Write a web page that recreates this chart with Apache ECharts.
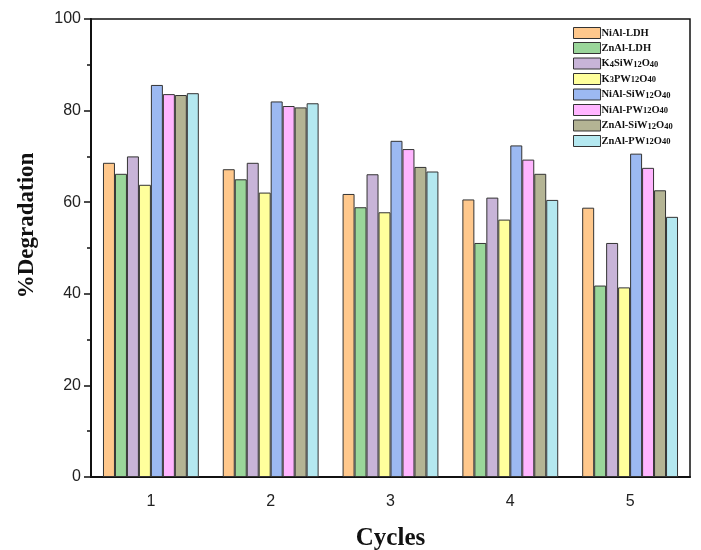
<!DOCTYPE html>
<html>
<head>
<meta charset="utf-8">
<script src="https://cdn.jsdelivr.net/npm/echarts@6/dist/echarts.min.js"></script>
<style>html,body{margin:0;padding:0;background:#fff}#c{width:701px;height:550px}</style>
</head>
<body>
<div id="c"></div>
<script>
const categories = ['1', '2', '3', '4', '5'];
const seriesNames = ['NiAl-LDH', 'ZnAl-LDH', 'K4SiW12O40', 'K3PW12O40', 'NiAl-SiW12O40', 'NiAl-PW12O40', 'ZnAl-SiW12O40', 'ZnAl-PW12O40'];
const niAlLDH = [68.6, 67.2, 61.8, 60.6, 58.8];
const znAlLDH = [66.2, 65.0, 58.9, 51.1, 41.8];
const k4SiW = [70.0, 68.6, 66.1, 61.0, 51.1];
const k3PW = [63.8, 62.1, 57.8, 56.2, 41.4];
const niAlSiW = [85.6, 82.0, 73.4, 72.4, 70.6];
const niAlPW = [83.6, 81.0, 71.6, 69.3, 67.5];
const znAlSiW = [83.4, 80.7, 67.7, 66.2, 62.6];
const znAlPW = [83.8, 81.6, 66.7, 60.5, 56.8];
const yTicks = [0, 20, 40, 60, 80, 100];

const allValues = [niAlLDH, znAlLDH, k4SiW, k3PW, niAlSiW, niAlPW, znAlSiW, znAlPW];
const colors = ['#FFC88C', '#9AD69A', '#C8B4D8', '#FFFF9C', '#9CB9F2', '#FFB5FF', '#B4B494', '#B4E8F0'];

const chart = echarts.init(document.getElementById('c'));
const series = seriesNames.map((n, i) => ({
  name: n,
  type: 'bar',
  xAxisIndex: 0,
  data: allValues[i],
  barGap: '0%',
  barCategoryGap: '20%',
  itemStyle: { color: colors[i], borderColor: '#333', borderWidth: 1 }
}));

chart.setOption({
  animation: false,
  backgroundColor: '#fff',
  grid: { left: 91, right: 11, top: 19, bottom: 73, containLabel: false, outerBoundsMode: 'none', show: true, borderColor: '#111', borderWidth: 1.5, backgroundColor: 'transparent' },
  legend: {
    orient: 'vertical',
    left: 568,
    top: 22,
    icon: 'rect',
    itemWidth: 27,
    itemHeight: 11,
    itemGap: 3,
    data: seriesNames,
    itemStyle: { borderColor: '#333', borderWidth: 1 },
    formatter: function (name) {
      return '{b|' + name.replace(/(\d+)/g, '}{s|$1}{b|') + '}';
    },
    textStyle: {
      padding: [0, 0, 0, -4],
      lineHeight: 11,
      rich: {
        b: { fontFamily: 'Liberation Serif', fontWeight: 'bold', fontSize: 10.5, lineHeight: 11, color: '#111' },
        s: { fontFamily: 'Liberation Serif', fontWeight: 'bold', fontSize: 8.5, lineHeight: 8, color: '#111', verticalAlign: 'bottom', padding: [3, 0, 0, 0] }
      }
    }
  },
  xAxis: [{
    type: 'category',
    data: categories,
    name: 'Cycles',
    nameLocation: 'middle',
    nameGap: 49,
    nameTextStyle: { fontFamily: 'Liberation Serif', fontWeight: 'bold', fontSize: 25, color: '#111' },
    axisLine: { lineStyle: { color: '#111', width: 2 } },
    axisTick: { alignWithLabel: true, length: 7, lineStyle: { color: '#111', width: 1.5 } },
    axisLabel: { fontFamily: 'Liberation Sans', fontSize: 16, color: '#222', margin: 17 }
  }, {
    type: 'category',
    data: categories,
    position: 'bottom',
    axisLine: { show: false },
    axisTick: { alignWithLabel: false, length: 4, lineStyle: { color: '#111', width: 1.5 } },
    axisLabel: { show: false }
  }],
  yAxis: {
    type: 'value',
    min: 0,
    max: 100,
    interval: 20,
    name: '%Degradation',
    nameLocation: 'middle',
    nameGap: 52,
    nameTextStyle: { fontFamily: 'Liberation Serif', fontWeight: 'bold', fontSize: 23, color: '#111', padding: [0, 0, 0, 45] },
    axisLine: { show: true, lineStyle: { color: '#111', width: 2 } },
    axisTick: { show: true, length: 7, lineStyle: { color: '#111', width: 1.5 } },
    minorTick: { show: true, splitNumber: 2, length: 4, lineStyle: { color: '#111', width: 1.5 } },
    splitLine: { show: false },
    axisLabel: {
      fontFamily: 'Liberation Sans', fontSize: 16, color: '#222', margin: 10,
      formatter: function (v) { return yTicks.indexOf(v) >= 0 ? String(v) : ''; }
    }
  },
  series: series
});
</script>
</body>
</html>
